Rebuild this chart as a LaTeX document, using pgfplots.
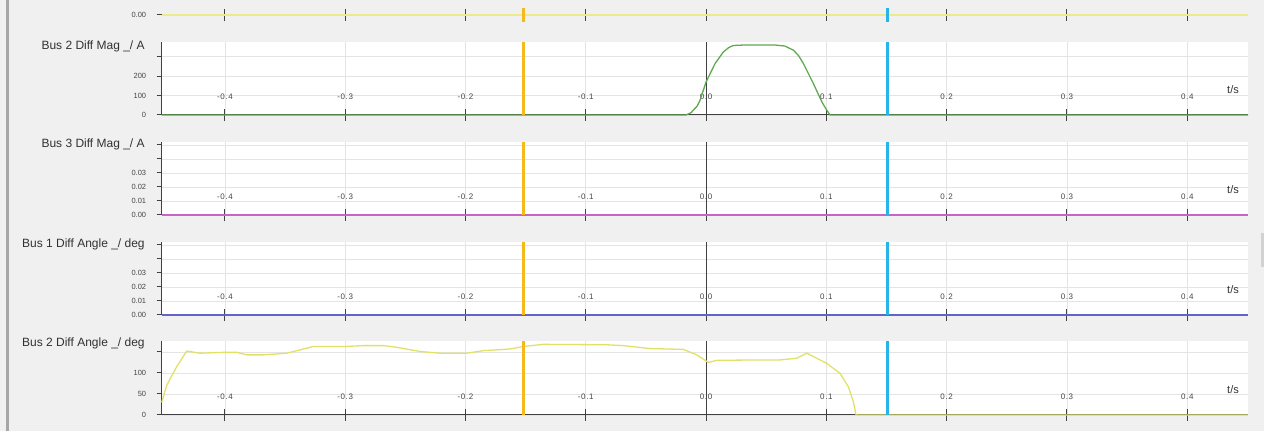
\documentclass[border=0pt]{standalone}
\usepackage{fontspec}
\setmainfont{Liberation Sans}
\newfontfamily\xtickfont{Liberation Sans}[LetterSpace=8]
\usepackage{pgfplots}
\pgfplotsset{compat=1.18}
\definecolor{bg}{RGB}{240,240,240}
\definecolor{axisc}{RGB}{65,65,65}
\definecolor{gridc}{RGB}{228,228,228}
\definecolor{tickc}{RGB}{70,70,70}
\definecolor{titlec}{RGB}{50,50,50}
\definecolor{cgreen}{RGB}{95,170,80}
\definecolor{cmag}{RGB}{200,100,200}
\definecolor{cblue}{RGB}{100,100,200}
\definecolor{cyel}{RGB}{225,225,105}
\definecolor{cyel2}{RGB}{235,235,140}
\definecolor{corange}{RGB}{245,185,30}
\definecolor{ccyan}{RGB}{40,180,230}
\pgfplotsset{
  common/.style={
    scale only axis, width=1086.3pt,
    xmin=-0.4525, xmax=0.4505,
    clip=false, scaled ticks=false,
    xtick={-0.4,-0.3,-0.2,-0.1,0,0.1,0.2,0.3,0.4},
    xtick align=center, ytick align=outside,
    major tick length=5pt,
    xtick style={/pgfplots/major tick length=12pt},
    tick style={draw=axisc, line width=1pt},
    yticklabel style={font=\fontsize{7.5}{8}\selectfont, text=tickc, xshift=-7pt},
    xticklabel style={font=\xtickfont\fontsize{8}{9}\selectfont, text=tickc, anchor=base, yshift=17.5pt},
  },
  panel/.style={
    common, height=73pt,
    axis x line*=bottom, axis y line*=left,
    xtick pos=lower, ytick pos=left,
    axis line style={-, draw=axisc, line width=1pt},
    axis background/.style={fill=white},
    xticklabels={-0.4,-0.3,-0.2,-0.1,0.0,0.1,0.2,0.3,0.4},
    grid=major, major grid style={draw=gridc, line width=0.6pt},
  },
}
\newcommand{\paneltitle}[2]{\node[anchor=east, font=\fontsize{12}{14}\selectfont, text=titlec] at (rel axis cs:0,1) [xshift=-13.5pt, yshift=#2] {#1};
  \node[font=\fontsize{11}{13}\selectfont, text=titlec] at (rel axis cs:1,0) [xshift=-15pt, yshift=25pt] {t/s};}

\pgfplotstableread{
t v
-0.4525 0
-0.0166 0
-0.0125 12
-0.0106 25
-0.0075 45
-0.0050 76
0.0000 170
0.0075 265
0.0144 325
0.0190 348
0.0227 358
0.0300 360
0.0580 360
0.0655 355
0.0726 334
0.0770 305
0.0809 265
0.0892 162
0.0962 68
0.1003 25
0.1031 0
0.4505 0
}\bustwomag

\pgfplotstableread{
t v
-0.4525 30
-0.4483 71
-0.4400 115
-0.4317 152
-0.4206 147
-0.4007 149
-0.3900 149
-0.3818 143
-0.3680 143
-0.3486 147
-0.3402 153
-0.3264 163
-0.3000 163
-0.2849 165
-0.2682 165
-0.2571 161
-0.2377 151
-0.2211 147
-0.1989 147
-0.1851 153
-0.1629 157
-0.1519 163
-0.1352 168
-0.0825 167
-0.0687 165
-0.0465 158
-0.0189 156
-0.0077 143
0.0019 125
0.0089 130
0.0449 131
0.0615 131
0.0754 135
0.0837 147
0.1003 123
0.1114 99
0.1183 67
0.1224 32
0.1247 0
0.4505 0
}\bustwoang

\begin{document}
\begin{tikzpicture}[x=1pt,y=1pt]
\path[use as bounding box] (0,0) rectangle (1264,431);
\fill[bg] (0,0) rectangle (1264,431);
\fill[gray!70] (6,0) rectangle (8.5,431);
\fill[gray!35] (1261,164) rectangle (1264,198);

% panel 0 (partial, top)
\begin{axis}[common, height=14pt, at={(161.7pt,409pt)}, anchor=south west,
  ymin=-1, ymax=1, axis x line*=middle, axis y line*=left,
  axis line style={draw=none}, xticklabels={}, ytick={0}, yticklabels={0.00}]
\addplot[cyel2, line width=1.6pt] coordinates {(-0.4525,0) (0.4505,0)};
\addplot[corange, line width=3pt] coordinates {(-0.1517,-1) (-0.1517,1)};
\addplot[ccyan, line width=3pt] coordinates {(0.1508,-1) (0.1508,1)};
\end{axis}

% panel 1
\begin{axis}[panel, at={(161.7pt,316pt)}, anchor=south west,
  ymin=0, ymax=376, ytick={0,100,200,300}, yticklabels={0,100,200,{}}]
\addplot[axisc, line width=1pt] coordinates {(0,0) (0,376)};
\addplot[cgreen, line width=1.3pt] table[x=t,y=v] {\bustwomag};
\addplot[corange, line width=3pt] coordinates {(-0.1517,0) (-0.1517,376)};
\addplot[ccyan, line width=3pt] coordinates {(0.1508,0) (0.1508,376)};
\paneltitle{Bus 2 Diff Mag \_/ A}{-4pt}
\end{axis}

% panel 2
\begin{axis}[panel, at={(161.7pt,216pt)}, anchor=south west,
  ymin=0, ymax=0.0521, ytick={0,0.01,0.02,0.03,0.04,0.05}, yticklabels={0.00,0.01,0.02,0.03,{},{}}]
\addplot[axisc, line width=1pt] coordinates {(0,0) (0,0.0521)};
\addplot[cmag, line width=1.3pt] coordinates {(-0.4525,0) (0.4505,0)};
\addplot[corange, line width=3pt] coordinates {(-0.1517,0) (-0.1517,0.0521)};
\addplot[ccyan, line width=3pt] coordinates {(0.1508,0) (0.1508,0.0521)};
\paneltitle{Bus 3 Diff Mag \_/ A}{-2pt}
\end{axis}

% panel 3
\begin{axis}[panel, at={(161.7pt,116pt)}, anchor=south west,
  ymin=0, ymax=0.0521, ytick={0,0.01,0.02,0.03,0.04,0.05}, yticklabels={0.00,0.01,0.02,0.03,{},{}}]
\addplot[axisc, line width=1pt] coordinates {(0,0) (0,0.0521)};
\addplot[cblue, line width=1.3pt] coordinates {(-0.4525,0) (0.4505,0)};
\addplot[corange, line width=3pt] coordinates {(-0.1517,0) (-0.1517,0.0521)};
\addplot[ccyan, line width=3pt] coordinates {(0.1508,0) (0.1508,0.0521)};
\paneltitle{Bus 1 Diff Angle \_/ deg}{-2pt}
\end{axis}

% panel 4
\begin{axis}[panel, height=74pt, at={(161.7pt,16pt)}, anchor=south west,
  ymin=0, ymax=176, ytick={0,50,100,150}, yticklabels={0,50,100,{}}]
\addplot[axisc, line width=1pt] coordinates {(0,0) (0,176)};
\addplot[cyel, line width=1.3pt] table[x=t,y=v] {\bustwoang};
\addplot[corange, line width=3pt] coordinates {(-0.1517,0) (-0.1517,176)};
\addplot[ccyan, line width=3pt] coordinates {(0.1508,0) (0.1508,176)};
\paneltitle{Bus 2 Diff Angle \_/ deg}{-2pt}
\end{axis}
\end{tikzpicture}
\end{document}
